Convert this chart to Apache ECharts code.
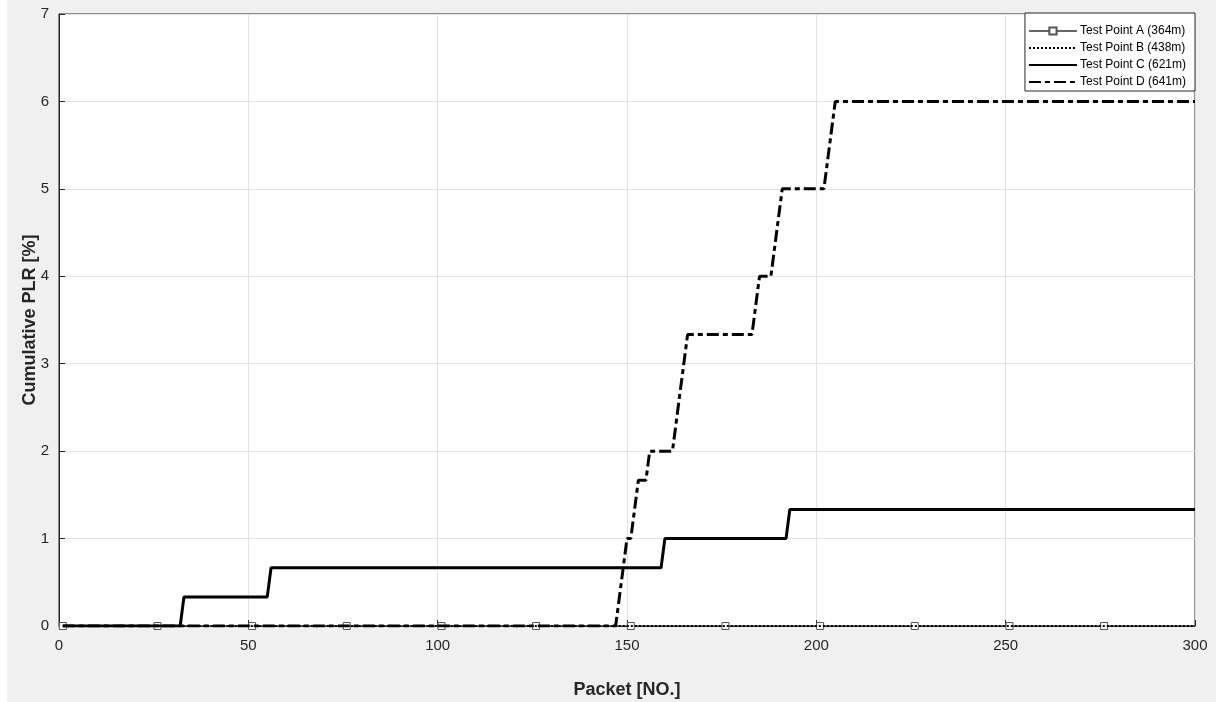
<!DOCTYPE html>
<html>
<head>
<meta charset="utf-8">
<script src="https://cdn.jsdelivr.net/npm/echarts@6/dist/echarts.min.js"></script>
<style>
  html, body { margin: 0; padding: 0; background: #ffffff; }
  #plrChart { position: absolute; left: 7px; top: 0; width: 1209px; height: 702px; background: #f0f0f0; }
</style>
</head>
<body>
<div id="plrChart"></div>
<script type="text/javascript">
  // packet axis ticks
  var xTicks = [0, 50, 100, 150, 200, 250, 300];
  var seriesNames = ['Test Point A (364m)', 'Test Point B (438m)', 'Test Point C (621m)', 'Test Point D (641m)'];

  // Test Point A: zero loss, markers every 25 packets
  var packetsA = [1, 26, 51, 76, 101, 126, 151, 176, 201, 226, 251, 276, 300];
  var valuesA  = [0, 0, 0, 0, 0, 0, 0, 0, 0, 0, 0, 0, 0];

  // Test Point B: zero loss
  var packetsB = [1, 300];
  var valuesB  = [0, 0];

  // Test Point C: corners of the cumulative step curve
  var packetsC = [1, 32, 33, 55, 56, 159, 160, 192, 193, 300];
  var valuesC  = [0, 0, 0.333, 0.333, 0.667, 0.667, 1.0, 1.0, 1.333, 1.333];

  // Test Point D: corners of the cumulative step curve
  var packetsD = [1, 147, 148, 149, 150, 151, 152, 153, 155, 156, 162, 163, 164, 165, 166, 183, 184, 185, 188, 189, 190, 191, 202, 203, 204, 205, 300];
  var valuesD  = [0, 0, 0.333, 0.667, 1.0, 1.0, 1.333, 1.667, 1.667, 2.0, 2.0, 2.333, 2.667, 3.0, 3.333, 3.333, 3.667, 4.0, 4.0, 4.333, 4.667, 5.0, 5.0, 5.333, 5.667, 6.0, 6.0];

  function pairs(xs, ys) {
    var out = [];
    for (var i = 0; i < xs.length; i++) out.push([xs[i], ys[i]]);
    return out;
  }

  var dataA = pairs(packetsA, valuesA);
  // no marker on the closing point at 300
  dataA[dataA.length - 1] = { value: dataA[dataA.length - 1], symbol: 'none' };

  // legend entries: only A shows its marker
  var legendData = seriesNames.map(function (n, i) {
    return i === 0 ? { name: n } : { name: n, itemStyle: { opacity: 0 } };
  });

  var myChart = echarts.init(document.getElementById('plrChart'), null, { renderer: 'canvas' });
  var option = {
    animation: false,
    textStyle: { fontFamily: 'Liberation Sans, Arial, sans-serif' },
    grid: {
      left: 52,
      right: 21,
      top: 14,
      bottom: 76,
      outerBoundsMode: 'none',
      containLabel: false,
      show: true,
      backgroundColor: '#ffffff',
      borderColor: '#262626',
      borderWidth: 1
    },
    legend: {
      data: legendData,
      orient: 'vertical',
      right: 21,
      top: 13,
      itemWidth: 48,
      itemHeight: 9,
      itemGap: 5,
      padding: [12, 9, 3, 3],
      backgroundColor: '#ffffff',
      borderColor: '#262626',
      borderWidth: 1,
      textStyle: { fontSize: 12, color: '#000000', padding: [0, 0, 0, -2] }
    },
    xAxis: {
      type: 'value',
      min: 0,
      max: 300,
      interval: 50,
      name: 'Packet [NO.]',
      nameLocation: 'middle',
      nameGap: 55,
      nameTextStyle: { fontSize: 18, fontWeight: 'bold', color: '#262626' },
      axisLine: { lineStyle: { color: '#262626', width: 1 } },
      axisTick: { inside: true, length: 6, lineStyle: { color: '#262626' } },
      axisLabel: { fontSize: 15, color: '#262626', margin: 12 },
      splitLine: { show: true, lineStyle: { color: '#e3e3e3', width: 1 } }
    },
    yAxis: {
      type: 'value',
      min: 0,
      max: 7,
      interval: 1,
      name: 'Cumulative PLR [%]',
      nameLocation: 'middle',
      nameGap: 20,
      nameMoveOverlap: false,
      nameTextStyle: { fontSize: 18, fontWeight: 'bold', color: '#262626' },
      axisLine: { show: true, lineStyle: { color: '#262626', width: 1 } },
      axisTick: { show: true, inside: true, length: 6, lineStyle: { color: '#262626' } },
      axisLabel: { fontSize: 15, color: '#262626', margin: 10 },
      splitLine: { show: true, lineStyle: { color: '#e3e3e3', width: 1 } }
    },
    series: [
      {
        name: seriesNames[0],
        type: 'line',
        data: dataA,
        symbol: 'rect',
        symbolSize: 7,
        showAllSymbol: true,
        itemStyle: { color: '#ffffff', borderColor: '#555555', borderWidth: 1 },
        lineStyle: { color: '#666666', width: 1 },
        z: 2
      },
      {
        name: seriesNames[1],
        type: 'line',
        data: pairs(packetsB, valuesB),
        symbol: 'none',
        itemStyle: { color: '#000000' },
        lineStyle: { color: '#000000', width: 2, type: [2, 2] },
        z: 3
      },
      {
        name: seriesNames[2],
        type: 'line',
        data: pairs(packetsC, valuesC),
        symbol: 'none',
        itemStyle: { color: '#000000' },
        lineStyle: { color: '#000000', width: 3 },
        z: 4
      },
      {
        name: seriesNames[3],
        type: 'line',
        data: pairs(packetsD, valuesD),
        symbol: 'none',
        itemStyle: { color: '#000000' },
        lineStyle: { color: '#000000', width: 3, type: [12, 4, 5, 4] },
        z: 5
      }
    ]
  };
  myChart.setOption(option);
</script>
</body>
</html>
